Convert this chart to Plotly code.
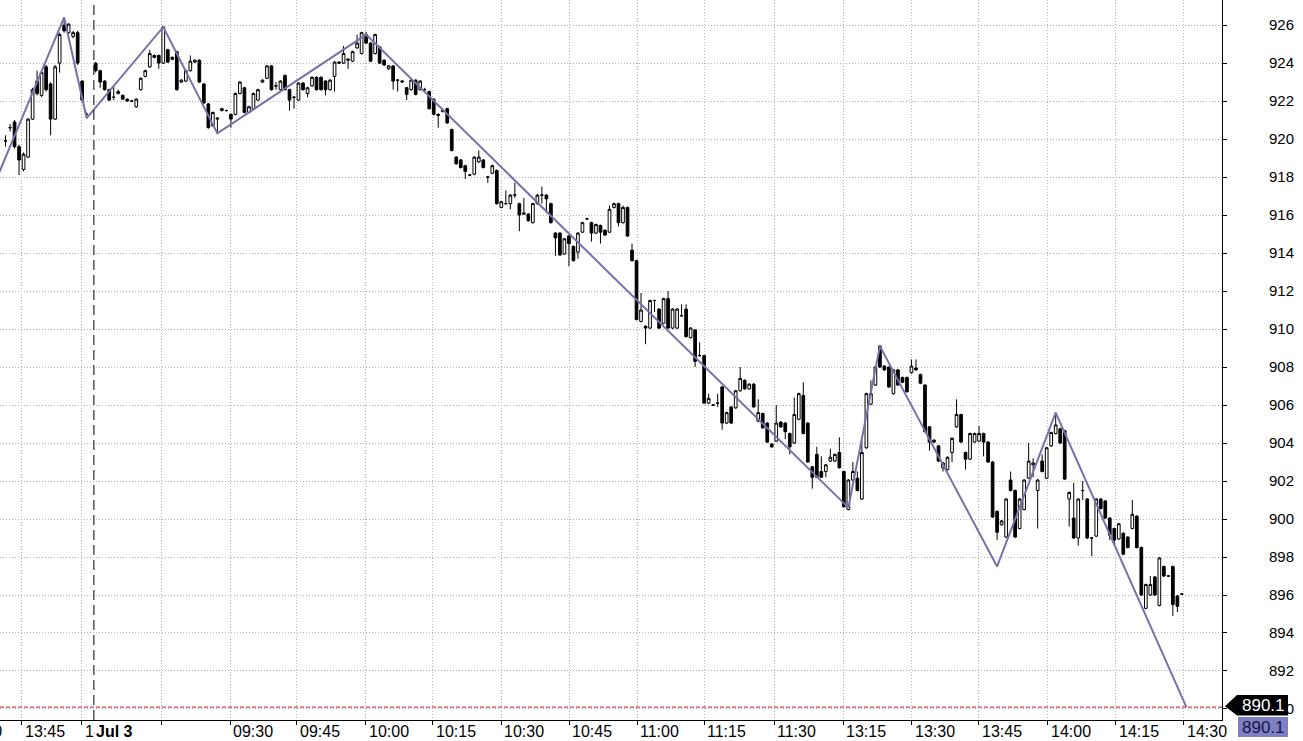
import plotly.graph_objects as go

# ---------------- data ----------------
# previous session (Jul 2), bar slots 0..18
pre_open  = [919.9, 920.6, 920.9, 919.6, 918.4, 919.05, 921.05, 923.05, 922.3, 923.8, 922.9, 921.05, 924.0, 926.0, 925.6, 925.4, 925.6, 923.05, 921.3]
pre_high  = [920.2, 920.8, 921.0, 919.7, 919.3, 921.1, 922.7, 923.6, 923.6, 923.9, 923.0, 923.9, 925.6, 926.4, 926.1, 925.7, 925.7, 923.1, 921.4]
pre_low   = [919.6, 920.4, 919.5, 918.1, 918.3, 919.0, 921.0, 922.3, 922.2, 922.5, 920.2, 921.0, 923.5, 925.6, 925.5, 925.3, 923.9, 922.0, 921.1]
pre_close = [919.9, 920.6, 919.6, 918.9, 919.2, 921.05, 922.6, 922.4, 923.5, 922.6, 921.05, 923.8, 925.5, 925.7, 926.05, 925.6, 924.0, 922.05, 921.3]

# Jul 3 session, bar slots 20..261  (open, high, low, close)
day_ohlc = [
    (924.0, 924.05, 923.5, 923.6), (923.6, 923.65, 922.7, 923.0), (923.05, 923.1, 922.55, 922.6),
    (922.6, 922.65, 922.0, 922.05), (922.2, 922.8, 922.05, 922.2), (922.4, 922.6, 922.35, 922.5),
    (922.3, 922.35, 922.05, 922.1), (922.1, 922.15, 921.95, 922.0), (922.0, 922.05, 921.95, 922.0),
    (921.7, 922.15, 921.65, 922.1), (922.6, 923.25, 922.55, 923.2), (923.3, 923.65, 923.25, 923.6),
    (923.8, 924.7, 923.75, 924.5), (924.4, 924.45, 924.25, 924.3), (924.4, 924.45, 923.7, 924.0),
    (924.0, 925.95, 923.95, 925.9), (924.7, 924.75, 924.0, 924.05), (924.3, 924.35, 924.15, 924.2),
    (924.6, 924.65, 922.55, 922.6), (923.0, 923.15, 922.95, 923.1), (923.05, 923.65, 923.0, 923.6),
    (923.6, 924.4, 923.55, 924.1), (924.05, 924.2, 924.0, 924.15), (924.15, 924.2, 922.95, 923.0),
    (922.9, 922.95, 921.85, 921.9), (921.85, 921.9, 920.55, 920.6), (920.7, 921.45, 920.65, 921.4),
    (921.05, 921.15, 920.3, 921.1), (921.5, 921.65, 921.45, 921.6), (921.5, 921.55, 921.45, 921.5),
    (921.3, 921.35, 920.6, 921.05), (921.3, 922.45, 921.25, 922.4), (922.4, 923.05, 922.35, 923.0),
    (922.7, 922.75, 921.35, 921.4), (921.4, 921.75, 921.35, 921.7), (921.6, 922.45, 921.55, 922.4),
    (922.05, 922.65, 922.0, 922.6), (923.0, 923.15, 922.95, 923.1), (923.2, 923.9, 923.15, 923.85),
    (923.85, 923.9, 922.55, 922.6), (922.8, 923.0, 922.6, 922.8), (922.6, 923.1, 922.55, 923.05),
    (923.35, 923.4, 922.55, 922.6), (922.6, 922.65, 921.5, 922.05), (922.2, 922.25, 921.6, 922.2),
    (922.05, 923.0, 922.0, 922.95), (922.95, 923.0, 922.55, 922.6), (922.4, 922.75, 922.2, 922.7),
    (922.8, 923.3, 922.75, 923.25), (923.25, 923.3, 922.55, 922.6), (923.25, 923.3, 922.55, 922.6),
    (923.05, 923.1, 922.3, 922.6), (922.6, 923.15, 922.55, 923.1), (923.3, 924.1, 922.5, 924.05),
    (924.05, 924.1, 923.95, 924.0), (924.0, 924.9, 923.95, 924.5), (924.15, 924.25, 923.7, 924.2),
    (924.1, 924.65, 924.05, 924.6), (924.8, 925.5, 924.75, 925.05), (924.5, 925.65, 924.45, 925.6),
    (925.5, 925.65, 925.0, 925.05), (925.05, 925.1, 924.05, 924.1), (924.5, 925.55, 924.45, 925.5),
    (924.85, 924.9, 923.95, 924.0), (924.15, 924.2, 923.85, 923.9), (923.7, 923.9, 923.65, 923.85),
    (923.85, 923.9, 922.6, 923.05), (923.1, 923.15, 922.5, 923.1), (923.0, 923.1, 922.95, 923.05),
    (922.7, 922.75, 922.05, 922.35), (922.6, 923.15, 922.55, 923.1), (923.1, 923.15, 922.3, 922.35),
    (922.6, 923.1, 922.55, 923.05), (922.6, 922.7, 922.5, 922.6), (922.5, 922.55, 921.55, 921.6),
    (922.1, 922.15, 921.25, 921.3), (921.3, 921.35, 920.6, 921.25), (921.45, 921.55, 921.4, 921.5),
    (921.6, 921.65, 920.8, 920.85), (920.5, 920.55, 919.35, 919.4), (919.05, 919.1, 918.65, 918.7),
    (918.9, 918.95, 918.45, 918.5), (918.6, 918.65, 917.9, 918.3), (918.1, 918.15, 918.05, 918.1),
    (918.15, 919.1, 918.1, 919.05), (918.8, 919.4, 918.75, 919.05), (918.9, 918.95, 918.45, 918.5),
    (918.0, 918.05, 917.7, 918.0), (918.2, 918.65, 918.15, 918.6), (918.35, 918.4, 916.55, 916.6),
    (916.4, 916.75, 916.35, 916.7), (916.6, 917.3, 916.55, 916.6), (916.6, 917.1, 916.3, 917.05),
    (917.05, 917.7, 916.9, 917.05), (916.6, 916.65, 915.15, 916.0), (916.05, 916.9, 916.0, 916.1),
    (916.05, 916.1, 915.65, 915.7), (915.6, 916.65, 915.55, 916.6), (916.6, 917.1, 916.55, 917.05),
    (917.05, 917.5, 916.6, 917.05), (917.05, 917.1, 916.1, 916.85), (916.6, 916.65, 915.55, 915.6),
    (915.05, 915.1, 913.85, 914.8), (915.05, 915.1, 913.85, 913.9), (913.95, 914.8, 913.9, 914.75),
    (914.9, 914.95, 913.3, 914.5), (914.35, 914.4, 913.55, 913.6), (914.05, 915.1, 913.7, 915.05),
    (915.1, 915.65, 915.05, 915.6), (915.8, 915.85, 915.75, 915.8), (915.6, 915.65, 914.6, 915.05),
    (915.05, 915.55, 915.0, 915.5), (915.45, 915.5, 914.5, 915.1), (915.2, 915.25, 914.9, 914.95),
    (915.1, 916.5, 915.05, 916.3), (916.4, 916.65, 916.35, 916.6), (916.6, 916.65, 915.4, 915.6),
    (915.6, 916.5, 915.55, 916.4), (916.4, 916.45, 914.85, 914.9), (914.15, 914.5, 913.55, 913.6),
    (913.6, 913.65, 910.45, 910.5), (910.4, 911.9, 910.35, 911.0), (910.15, 910.2, 909.2, 910.05),
    (910.05, 911.55, 910.0, 911.5), (911.5, 911.55, 910.9, 911.5), (911.05, 911.1, 910.0, 910.05),
    (910.3, 911.65, 910.25, 911.6), (911.6, 912.0, 910.0, 910.05), (910.05, 911.1, 910.0, 911.05),
    (910.05, 911.1, 910.0, 911.05), (910.7, 911.3, 910.65, 910.7), (911.05, 911.3, 909.55, 909.6),
    (909.55, 910.1, 909.5, 910.05), (909.95, 910.0, 908.0, 908.3), (908.6, 909.3, 908.55, 908.6),
    (908.6, 908.65, 906.05, 906.1), (906.1, 906.6, 906.05, 906.35), (906.0, 906.05, 905.95, 906.0),
    (906.1, 906.6, 905.9, 906.1), (906.95, 907.0, 904.7, 905.05), (905.05, 905.65, 905.0, 905.6),
    (905.9, 905.95, 905.0, 905.05), (905.85, 906.8, 905.8, 906.75), (906.75, 908.0, 906.7, 907.4),
    (907.3, 907.35, 906.8, 906.85), (906.85, 907.15, 906.8, 907.1), (907.1, 907.15, 905.85, 905.9),
    (905.15, 906.3, 905.1, 905.6), (905.55, 905.6, 904.75, 904.8), (905.05, 905.1, 904.0, 904.05),
    (903.95, 904.0, 903.75, 903.8), (904.1, 906.0, 904.05, 905.05), (905.1, 905.15, 904.8, 904.85),
    (905.05, 905.1, 904.2, 904.6), (904.5, 904.55, 903.4, 903.8), (904.0, 906.4, 903.95, 905.5),
    (905.25, 906.65, 905.2, 906.6), (906.5, 907.2, 904.45, 904.5), (905.05, 905.1, 902.95, 903.0),
    (902.75, 902.8, 901.6, 902.2), (903.4, 903.8, 902.15, 902.2), (902.5, 903.3, 902.15, 902.2),
    (902.5, 902.9, 902.2, 902.85), (903.05, 903.7, 903.0, 903.25), (903.05, 903.45, 903.0, 903.4),
    (903.5, 904.3, 902.65, 902.7), (902.5, 902.55, 900.6, 900.65), (900.5, 902.1, 900.45, 902.05),
    (902.05, 903.0, 902.0, 902.5), (902.15, 902.5, 901.45, 901.5), (901.05, 904.2, 901.0, 903.5),
    (903.75, 906.65, 903.7, 906.6), (906.05, 907.3, 906.0, 906.6), (907.05, 908.05, 907.0, 908.0),
    (909.1, 909.15, 907.95, 908.0), (908.05, 908.1, 907.8, 907.85), (908.0, 908.05, 906.9, 906.95),
    (906.6, 907.9, 906.55, 907.85), (907.85, 907.9, 907.0, 907.05), (907.45, 907.5, 907.15, 907.2),
    (907.45, 907.5, 906.65, 906.7), (907.7, 908.4, 907.65, 908.05), (907.95, 908.4, 907.8, 907.85),
    (907.6, 907.65, 907.1, 907.15), (907.05, 907.1, 904.55, 904.6), (904.85, 904.9, 903.6, 904.05),
    (904.15, 904.2, 904.0, 904.05), (903.85, 903.9, 903.0, 903.05), (902.7, 903.0, 902.5, 902.95),
    (902.6, 903.3, 902.55, 903.25), (903.5, 904.3, 903.0, 904.25), (904.85, 906.3, 904.8, 905.5),
    (905.5, 905.55, 904.0, 904.05), (903.5, 903.55, 902.6, 903.15), (903.15, 904.55, 903.1, 904.5),
    (904.05, 904.55, 904.0, 904.5), (904.1, 904.9, 904.05, 904.5), (904.5, 904.55, 903.3, 904.05),
    (904.05, 904.1, 902.95, 903.0), (903.0, 903.05, 900.05, 900.1), (900.4, 900.45, 898.9, 899.3),
    (899.7, 899.95, 899.65, 899.9), (899.05, 901.1, 899.0, 901.05), (902.05, 902.5, 901.45, 901.5),
    (901.5, 901.55, 899.0, 899.05), (899.5, 901.1, 899.45, 901.05), (900.5, 902.1, 900.45, 902.05),
    (902.15, 904.0, 902.1, 903.05), (902.85, 903.2, 902.2, 902.95), (901.5, 902.1, 899.5, 902.05),
    (903.05, 903.4, 902.45, 902.5), (902.15, 903.8, 902.1, 903.75), (903.85, 904.6, 903.8, 904.55),
    (904.5, 905.6, 904.45, 904.95), (904.75, 904.8, 903.95, 904.0), (904.65, 904.7, 902.05, 902.1),
    (901.05, 901.45, 899.6, 901.4), (900.05, 901.9, 898.95, 899.0), (899.0, 901.1, 898.6, 901.05),
    (901.5, 902.0, 901.0, 901.5), (901.05, 901.1, 898.95, 899.0), (899.0, 899.05, 898.05, 899.0),
    (899.1, 901.1, 899.05, 901.05), (901.05, 901.1, 900.5, 900.55), (900.95, 901.0, 900.0, 900.05),
    (900.05, 900.1, 898.9, 899.15), (899.5, 899.55, 898.7, 898.9), (898.95, 899.8, 898.9, 899.75),
    (899.25, 899.3, 898.1, 898.15), (899.05, 899.1, 898.45, 898.5), (899.5, 901.0, 899.45, 900.25),
    (900.15, 900.2, 898.45, 898.5), (898.5, 898.55, 895.95, 896.0), (895.3, 896.6, 895.25, 896.55),
    (896.0, 897.0, 895.95, 896.55), (896.95, 897.0, 895.95, 896.0), (895.45, 898.0, 895.4, 897.95),
    (897.5, 897.55, 896.95, 897.0), (897.0, 897.05, 896.95, 897.0), (897.5, 897.55, 894.9, 895.5),
    (895.95, 896.0, 895.1, 895.4), (896.05, 896.1, 896.0, 896.05),
]

# zigzag indicator pivots (bar slot, price)
zz_slot  = [-2, 13, 18, 35, 47, 80, 187, 194, 220, 233, 262]
zz_price = [917.9, 926.4, 921.1, 925.9, 920.3, 925.5, 900.6, 909.1, 897.5, 905.6, 890.1]

last_value = 890.1
day_break_slot = 19.6
day_label = "Jul 3"

# time axis ticks (bar slot positions)
tick_slot = [3.65, 16.96, 34.69, 49.8, 64.66, 79.97, 94.84, 109.93, 125.02, 140.11,
             154.97, 170.5, 185.81, 201.1, 215.97, 231.28, 246.37, 261.46]
tick_text = ["13:45", "14:00", "", "09:30", "09:45", "10:00", "10:15", "10:30", "10:45", "11:00",
             "11:15", "11:30", "13:15", "13:30", "13:45", "14:00", "14:15", "14:30"]
offscreen_label = "13:30"   # previous tick, only its last digit shows at the left edge

# ---------------- build ----------------
pre_x = list(range(0, len(pre_open)))
day_x = list(range(20, 20 + len(day_ohlc)))
xs = pre_x + day_x
opens = pre_open + [r[0] for r in day_ohlc]
highs = pre_high + [r[1] for r in day_ohlc]
lows = pre_low + [r[2] for r in day_ohlc]
closes = pre_close + [r[3] for r in day_ohlc]

FONT = "Arial, 'Liberation Sans', sans-serif"

fig = go.Figure()
fig.add_trace(go.Candlestick(
    x=xs, open=opens, high=highs, low=lows, close=closes,
    increasing=dict(line=dict(color="black", width=1), fillcolor="white"),
    decreasing=dict(line=dict(color="black", width=1), fillcolor="black"),
    whiskerwidth=0, showlegend=False, hoverinfo="skip",
))
fig.add_trace(go.Scatter(
    x=zz_slot, y=zz_price, mode="lines",
    line=dict(color="#7572ab", width=2), showlegend=False, hoverinfo="skip",
))

PLOT_W = 1222.0
PLOT_H = 720.0
XMIN, XMAX = -1.23, 269.9
YMIN, YMAX = 889.42, 927.32

shapes = [
    dict(type="line", xref="x", yref="paper", x0=day_break_slot, x1=day_break_slot, y0=0, y1=1,
         line=dict(color="black", width=1, dash="10px,5px"), layer="above"),
    dict(type="line", xref="paper", yref="y", x0=0, x1=1, y0=last_value, y1=last_value,
         line=dict(color="#d01818", width=1, dash="4px,2px"), layer="above"),
    # price tag (black, arrow shaped)
    dict(type="path", xref="paper", yref="y",
         path=(f"M {1225/PLOT_W},{last_value + 0.05} L {1237/PLOT_W},890.74 L {1288/PLOT_W},890.74 "
               f"L {1288/PLOT_W},889.66 L {1237/PLOT_W},889.66 Z"),
         fillcolor="black", line=dict(width=0), layer="above"),
    # last value box
    dict(type="rect", xref="paper", yref="paper", x0=1238/PLOT_W, x1=1288/PLOT_W,
         y0=-17/PLOT_H, y1=3/PLOT_H, fillcolor="#7f7fc6", line=dict(width=0), layer="above"),
]

annotations = []
# time labels, left-aligned just right of their tick
annotations.append(dict(text=offscreen_label, xref="paper", yref="paper", x=-40/PLOT_W, y=-11/PLOT_H,
                        xanchor="left", yanchor="middle", showarrow=False,
                        font=dict(family=FONT, size=16, color="black")))
for pos, lab in zip(tick_slot, tick_text):
    if lab:
        annotations.append(dict(text=lab, xref="x", yref="paper", x=pos, y=-11/PLOT_H,
                                xanchor="left", yanchor="middle", xshift=1, showarrow=False,
                                font=dict(family=FONT, size=16, color="black")))
annotations += [
    dict(text=f"<b>{day_label}</b>", xref="x", yref="paper", x=day_break_slot, y=-11/PLOT_H,
         xanchor="left", yanchor="middle", showarrow=False, bgcolor="white", borderpad=1,
         font=dict(family=FONT, size=16, color="black")),
    dict(text=f"{last_value:.1f}", xref="paper", yref="y", x=1263/PLOT_W, y=last_value + 0.08,
         showarrow=False, font=dict(family=FONT, size=17, color="white"), xanchor="center", yanchor="middle"),
    dict(text=f"{last_value:.1f}", xref="paper", yref="paper", x=1263/PLOT_W, y=-7/PLOT_H,
         showarrow=False, font=dict(family=FONT, size=17, color="#16163c"), xanchor="center", yanchor="middle"),
]

fig.update_layout(
    width=1303, height=741,
    margin=dict(l=0, r=81, t=0, b=21),
    paper_bgcolor="white", plot_bgcolor="white",
    font=dict(family=FONT, size=15, color="black"),
    shapes=shapes, annotations=annotations,
    boxgap=0.15,
    xaxis=dict(
        type="linear", range=[XMIN, XMAX], rangeslider=dict(visible=False),
        tickmode="array", tickvals=tick_slot, showticklabels=False,
        ticks="outside", ticklen=4, tickcolor="black",
        showgrid=True, gridcolor="#b4b4b4", griddash="1px,2px", gridwidth=1,
        showline=True, linecolor="black", linewidth=1,
        zeroline=False, fixedrange=True,
    ),
    yaxis=dict(
        side="right", range=[YMIN, YMAX], tick0=890, dtick=2,
        ticks="outside", ticklen=4, tickcolor="black",
        showgrid=True, gridcolor="#b4b4b4", griddash="1px,2px", gridwidth=1,
        showline=True, linecolor="black", linewidth=1,
        zeroline=False, tickfont=dict(family=FONT, size=15, color="black"),
        ticklabelstandoff=39,
        fixedrange=True,
    ),
)

fig.write_html("out.html", config={"displayModeBar": False},
               post_script="document.body.style.margin='0';document.body.style.overflow='hidden';")
